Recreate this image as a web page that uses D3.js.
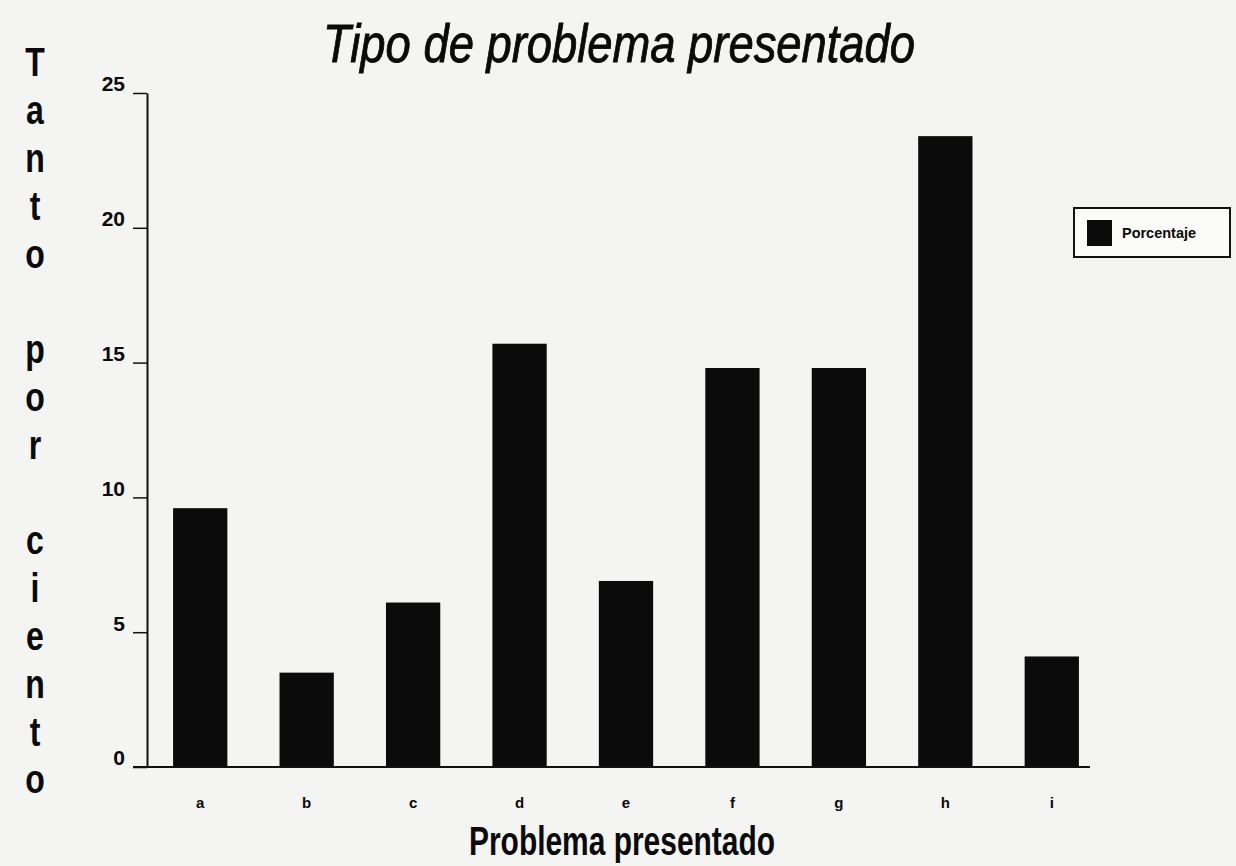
<!DOCTYPE html>
<html>
<head>
<meta charset="utf-8">
<script src="https://cdn.jsdelivr.net/npm/d3@7/dist/d3.min.js"></script>
<style>
  html, body { margin: 0; padding: 0; background: #f4f4f2; }
  svg { display: block; }
</style>
</head>
<body>
<svg id="chart" width="1236" height="866"></svg>
<script>
const categories = ["a", "b", "c", "d", "e", "f", "g", "h", "i"];
const porcentaje = [9.6, 3.5, 6.1, 15.7, 6.9, 14.8, 14.8, 23.4, 4.1];
const yTicks = [0, 5, 10, 15, 20, 25];
const titleText = "Tipo de problema presentado";
const yTitle = "Tanto por ciento";
const xTitle = "Problema presentado";
const legendLabel = "Porcentaje";

const svg = d3.select("#chart");
const W = 1236, H = 866;
svg.append("rect").attr("width", W).attr("height", H).attr("fill", "#f4f4f2");

const plot = { left: 147, right: 1105, top: 93, bottom: 767 };
const narrow = "'Liberation Sans Narrow', 'Liberation Sans', Arial, sans-serif";

const x = d3.scaleBand().domain(categories)
  .range([plot.left, plot.right]).paddingInner(0.49).paddingOuter(0.245);
const y = d3.scaleLinear().domain([0, 25]).range([plot.bottom, plot.top]);

// Title
svg.append("text")
  .attr("x", 619).attr("y", 62)
  .attr("text-anchor", "middle")
  .attr("font-family", narrow)
  .attr("font-style", "italic")
  .attr("font-size", 54)
  .attr("textLength", 592).attr("lengthAdjust", "spacingAndGlyphs")
  .attr("fill", "#0a0a0a")
  .attr("stroke", "#0a0a0a").attr("stroke-width", 0.9)
  .text(titleText);

// Bars
svg.append("g").selectAll("rect")
  .data(categories.map((c, i) => ({ c, v: porcentaje[i] })))
  .join("rect")
  .attr("x", d => x(d.c))
  .attr("width", x.bandwidth())
  .attr("y", d => y(d.v))
  .attr("height", d => y(0) - y(d.v))
  .attr("fill", "#0b0b0b");

// Y axis
const yAxis = svg.append("g")
  .attr("transform", `translate(${plot.left},0)`)
  .call(d3.axisLeft(y).tickValues(yTicks).tickSize(14).tickSizeOuter(0).tickPadding(8));
yAxis.select(".domain").attr("stroke", "#111").attr("stroke-width", 2);
yAxis.selectAll(".tick line").attr("stroke", "#111").attr("stroke-width", 1.5);
yAxis.selectAll(".tick text")
  .attr("font-family", narrow).attr("font-weight", "bold")
  .attr("font-size", 21).attr("fill", "#0a0a0a").attr("dy", "-0.1em");

// X axis
const xAxis = svg.append("g")
  .attr("transform", `translate(0,${plot.bottom})`)
  .call(d3.axisBottom(x).tickSize(0).tickPadding(30));
xAxis.select(".domain").remove();
xAxis.selectAll(".tick text")
  .attr("font-family", narrow).attr("font-weight", "bold")
  .attr("font-size", 15).attr("fill", "#0a0a0a");
svg.append("line")
  .attr("x1", plot.left - 14).attr("x2", 1090)
  .attr("y1", y(0)).attr("y2", y(0))
  .attr("stroke", "#111").attr("stroke-width", 2);

// X title
svg.append("text")
  .attr("x", 622).attr("y", 855)
  .attr("text-anchor", "middle")
  .attr("font-family", narrow).attr("font-weight", "bold")
  .attr("font-size", 40)
  .attr("textLength", 306).attr("lengthAdjust", "spacingAndGlyphs")
  .attr("fill", "#0a0a0a")
  .text(xTitle);

// Y title stacked letters
const chars = yTitle.split("");
const yc = d3.scalePoint().domain(d3.range(chars.length)).range([62, 779]);
svg.append("g").selectAll("text")
  .data(chars.map((ch, i) => ({ ch, i })).filter(d => d.ch !== " "))
  .join("text")
  .attr("transform", d => `translate(35,${yc(d.i)}) scale(0.8,1)`)
  .attr("dy", "0.36em")
  .attr("text-anchor", "middle")
  .attr("font-family", narrow).attr("font-weight", "bold")
  .attr("font-size", 40).attr("fill", "#0a0a0a")
  .text(d => d.ch);

// Legend
const lg = svg.append("g");
lg.append("rect").attr("x", 1074).attr("y", 208).attr("width", 156).attr("height", 49)
  .attr("fill", "#fbfbfa").attr("stroke", "#111").attr("stroke-width", 2);
lg.append("rect").attr("x", 1087).attr("y", 220).attr("width", 25).attr("height", 26)
  .attr("fill", "#0b0b0b");
lg.append("text").attr("x", 1122).attr("y", 233).attr("dy", "0.35em")
  .attr("font-family", narrow).attr("font-weight", "bold")
  .attr("font-size", 14).attr("textLength", 74).attr("lengthAdjust", "spacingAndGlyphs")
  .attr("fill", "#0a0a0a").text(legendLabel);
</script>
</body>
</html>
